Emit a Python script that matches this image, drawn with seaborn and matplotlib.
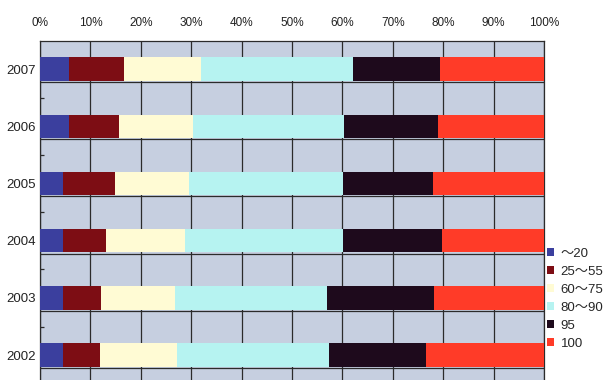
import matplotlib
matplotlib.use("Agg")
import matplotlib.pyplot as plt
from matplotlib.patches import Patch
import numpy as np
import pandas as pd
import seaborn as sns

# Share (%) of each score band per year
years = ["2007", "2006", "2005", "2004", "2003", "2002"]
bands = ["～20", "25～55", "60～75", "80～90", "95", "100"]
band_20 = [5.8, 5.8, 4.6, 4.5, 4.6, 4.5]
band_25_55 = [10.9, 9.9, 10.3, 8.5, 7.6, 7.5]
band_60_75 = [15.2, 14.7, 14.7, 15.8, 14.6, 15.1]
band_80_90 = [30.3, 30.0, 30.6, 31.4, 30.1, 30.2]
band_95 = [17.2, 18.6, 17.8, 19.5, 21.3, 19.3]
band_100 = [20.6, 21.0, 22.0, 20.3, 21.8, 23.4]

colors = ["#3b3f9e", "#7d0d14", "#fffbd4", "#b6f3f1", "#1e0a1c", "#ff3b28"]
axes_bg = "#c6cfe0"
grid_c = "#2b2b2b"

sns.set_theme(style="white")
fonts = ["Liberation Sans", "Noto Sans CJK JP"]
plt.rcParams["font.family"] = fonts

df = pd.DataFrame({"year": years})
parts = [band_20, band_25_55, band_60_75, band_80_90, band_95, band_100]
cum = np.cumsum(np.array(parts), axis=0)
for i, b in enumerate(bands):
    df[b] = cum[i]

fig = plt.figure(figsize=(6.1, 3.8), dpi=100)
W, H = 610, 380
top_px, row_px = 40.5, 57.2
ax = fig.add_axes([40 / W, (H - top_px - 6 * row_px) / H, 504 / W, 6 * row_px / H])
ax.set_facecolor(axes_bg)

# Stacked bars: draw cumulative totals from the widest down
for i in range(len(bands) - 1, -1, -1):
    sns.barplot(data=df, x=bands[i], y="year", order=years, color=colors[i],
                saturation=1, width=0.41, linewidth=0, ax=ax, zorder=3)

ax.set_xlim(0, 100)
ax.set_ylim(5.5, -0.5)
ax.set_xlabel("")
ax.set_ylabel("")

# top percentage axis
ax.xaxis.tick_top()
ax.set_xticks(np.arange(0, 101, 10))
ax.set_xticklabels([f"{v}%" for v in range(0, 101, 10)], fontsize=8.5, color="#222222")
ax.tick_params(axis="x", length=0, pad=8)
ax.grid(axis="x", color=grid_c, linewidth=0.9, zorder=1)
ax.set_axisbelow(True)

# horizontal rules under each bar
for k in range(len(years)):
    ax.axhline(k + 0.225, color=grid_c, linewidth=0.9, zorder=1)

ax.tick_params(axis="y", length=0, pad=3, labelsize=9.5, labelcolor="#222222")
ax.set_yticks(np.arange(0.5, 6, 1), minor=True)
ax.tick_params(axis="y", which="minor", direction="in", length=3, width=0.9, color=grid_c, left=True)

for s in ["top", "left", "right"]:
    ax.spines[s].set_visible(True)
    ax.spines[s].set_color(grid_c)
    ax.spines[s].set_linewidth(0.9)
ax.spines["bottom"].set_visible(False)

handles = [Patch(facecolor=c, edgecolor="none", label=b) for c, b in zip(colors, bands)]
fig.legend(handles=handles, loc="upper left", bbox_to_anchor=(544 / W, 1 - 245 / H),
           frameon=False, handlelength=0.55, handleheight=0.55,
           handletextpad=0.5, labelspacing=0.46, borderaxespad=0, borderpad=0.2,
           prop={"family": fonts, "size": 9.5})

fig.savefig("out.png", dpi=100, facecolor="white")
